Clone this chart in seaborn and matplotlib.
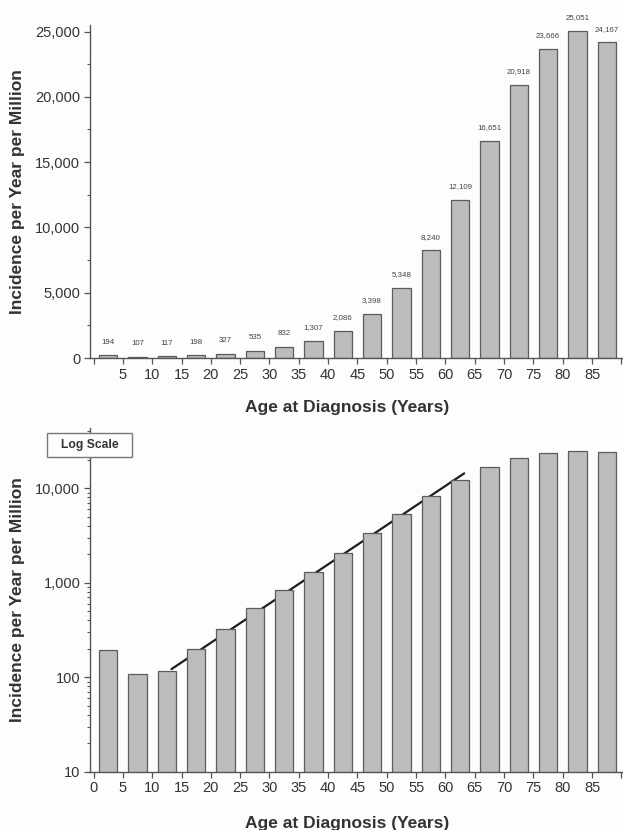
import numpy as np
import pandas as pd
import matplotlib
matplotlib.use("Agg")
import matplotlib.pyplot as plt
import seaborn as sns
from matplotlib.ticker import FixedLocator, FuncFormatter, LogLocator, NullFormatter, MultipleLocator
from matplotlib.patches import Rectangle

# ---- data ----
age_group_start = [0, 5, 10, 15, 20, 25, 30, 35, 40, 45, 50, 55, 60, 65, 70, 75, 80, 85]
incidence = [194, 107, 117, 198, 327, 535, 832, 1307, 2086, 3398, 5348, 8240,
             12109, 16651, 20918, 23666, 25051, 24167]
trend_age = [13.3, 63.2]
trend_incidence = [122, 14400]
x_ticks = [0, 5, 10, 15, 20, 25, 30, 35, 40, 45, 50, 55, 60, 65, 70, 75, 80, 85, 90]
top_x_labels = ["", "5", "10", "15", "20", "25", "30", "35", "40", "45", "50", "55",
                "60", "65", "70", "75", "80", "85", ""]
bottom_x_labels = ["0", "5", "10", "15", "20", "25", "30", "35", "40", "45", "50", "55",
                   "60", "65", "70", "75", "80", "85", ""]
top_y_ticks = [0, 5000, 10000, 15000, 20000, 25000]
bottom_y_ticks = [10, 100, 1000, 10000]
y_label = "Incidence per Year per Million"
x_label = "Age at Diagnosis (Years)"
box_label = "Log Scale"

df = pd.DataFrame({"age": age_group_start, "incidence": incidence})
df["mid"] = df["age"] + 2.5

sns.set_theme(style="ticks")
plt.rcParams["font.family"] = ["Liberation Sans", "DejaVu Sans"]

BAR = "#bcbcbe"
EDGE = "#5c5c5c"
AX = "#555555"
TXT = "#333333"

fig = plt.figure(figsize=(6.23, 8.30), dpi=100, facecolor="#fdfdfd")
W, H = 623.0, 830.0
ax1 = fig.add_axes([90 / W, 1 - 358 / H, 532 / W, (358 - 25) / H])
ax2 = fig.add_axes([90 / W, 1 - 771.7 / H, 532 / W, (771.7 - 428) / H])

comma = FuncFormatter(lambda v, p: f"{int(round(v)):,}")

for ax in (ax1, ax2):
    ax.set_facecolor("#fdfdfd")
    sns.barplot(data=df, x="mid", y="incidence", native_scale=True, color=BAR,
                saturation=1, edgecolor=EDGE, linewidth=0.9, width=0.62,
                errorbar=None, ax=ax)
    for p in ax.patches:
        p.set_zorder(3)
    for s in ("top", "right"):
        ax.spines[s].set_visible(False)
    for s in ("left", "bottom"):
        ax.spines[s].set_color(AX)
        ax.spines[s].set_linewidth(1.0)
        ax.spines[s].set_zorder(4)
    ax.set_xlim(-0.6, 90.1)
    ax.xaxis.set_major_locator(FixedLocator(x_ticks))
    ax.tick_params(axis="both", which="major", direction="out", length=4, width=0.9,
                   color=AX, labelcolor=TXT, labelsize=10.5, pad=3)
    ax.tick_params(axis="y", which="minor", direction="out", length=2.5, width=0.8, color=AX)

# top panel (linear)
ax1.set_xticklabels(top_x_labels)
ax1.set_ylim(0, 25500)
ax1.yaxis.set_major_locator(FixedLocator(top_y_ticks))
ax1.yaxis.set_minor_locator(MultipleLocator(2500))
ax1.yaxis.set_major_formatter(comma)
ax1.bar_label(ax1.containers[0], labels=[f"{v:,}" for v in incidence],
              padding=7, fontsize=5.7, color="#444444")
ax1.set_xlabel(x_label, fontsize=12.5, fontweight="bold", color=TXT)
ax1.set_ylabel(y_label, fontsize=12.5, fontweight="bold", color=TXT)
ax1.xaxis.set_label_coords(0.484, -0.125)
ax1.yaxis.set_label_coords(-0.122, 0.5)

# bottom panel (log)
ax2.set_yscale("log")
sns.lineplot(x=trend_age, y=trend_incidence, color="#1e1e1e", linewidth=1.6,
             ax=ax2)
for ln in ax2.lines:
    ln.set_zorder(1)
ax2.set_xlim(-0.6, 90.1)
ax2.set_ylim(10, 43500)
ax2.xaxis.set_major_locator(FixedLocator(x_ticks))
ax2.set_xticklabels(bottom_x_labels)
ax2.yaxis.set_major_locator(FixedLocator(bottom_y_ticks))
ax2.yaxis.set_major_formatter(comma)
ax2.yaxis.set_minor_locator(LogLocator(base=10, subs=np.arange(2, 10)))
ax2.yaxis.set_minor_formatter(NullFormatter())
ax2.set_xlabel(x_label, fontsize=12.5, fontweight="bold", color=TXT)
ax2.set_ylabel(y_label, fontsize=12.5, fontweight="bold", color=TXT)
ax2.xaxis.set_label_coords(0.484, -0.13)
ax2.yaxis.set_label_coords(-0.122, 0.5)

# "Log Scale" box
rect = Rectangle((47 / W, 1 - 457 / H), 85 / W, 24 / H, transform=fig.transFigure,
                 facecolor="#fdfdfd", edgecolor="#777777", linewidth=1.0, zorder=5)
fig.patches.append(rect)
fig.text(89.5 / W, 1 - 445 / H, box_label, ha="center", va="center", fontsize=8.7,
         fontweight="bold", color=TXT, zorder=6)

fig.savefig("out.png", dpi=100, facecolor=fig.get_facecolor())
